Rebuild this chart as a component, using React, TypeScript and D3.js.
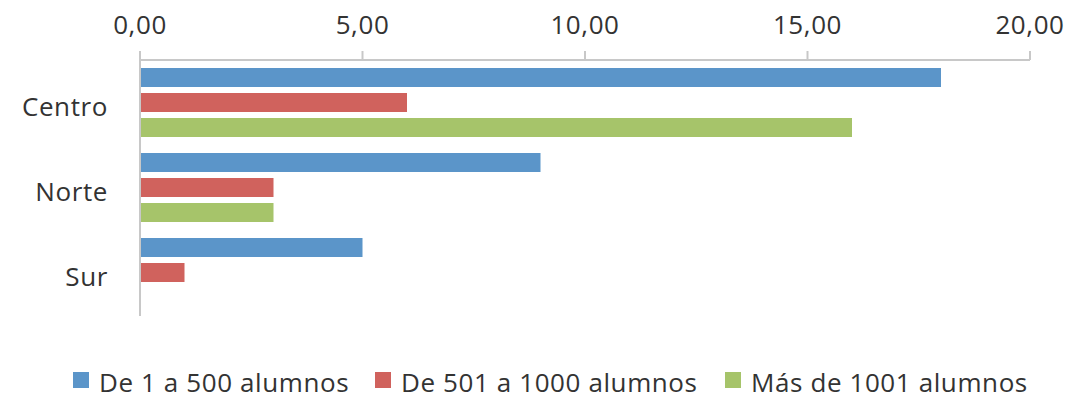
import * as d3 from "d3";

const categories = ["Centro", "Norte", "Sur"];
const seriesNames = ["De 1 a 500 alumnos", "De 501 a 1000 alumnos", "Más de 1001 alumnos"];
const de1a500 = [18, 9, 5];
const de501a1000 = [6, 3, 1];
const mas1001 = [16, 3, 0];
const xTicks = [0, 5, 10, 15, 20];
const colors = ["#5B95C9", "#D0625D", "#A6C46A"];

const W = 1073;
const H = 404;
const FONT = "'Open Sans', Lato, sans-serif";
const FS = 26;
const LS = 0.6;

export default function App() {
  const series = [de1a500, de501a1000, mas1001];
  const x = d3.scaleLinear().domain([0, 20]).range([140, 1030]);
  const y = d3.scaleBand().domain(categories).range([60, 315]);
  const inner = d3.scaleBand().domain(seriesNames).range([8, 77]).paddingInner(0.24);
  const fmt = (v: number) => v.toFixed(2).replace(".", ",");

  const legendX = [73, 375, 725];

  return (
    <svg width={W} height={H} style={{ position: "absolute", left: 0, top: 0, background: "#fff" }}>
      {/* top axis */}
      <line x1={x(0)} x2={x(20)} y1={60} y2={60} stroke="#c8c8c8" strokeWidth={2} />
      {xTicks.map((t) => (
        <g key={t}>
          <line x1={x(t)} x2={x(t)} y1={51} y2={60} stroke="#c8c8c8" strokeWidth={2} />
          <text x={x(t)} y={34} textAnchor="middle" fontFamily={FONT} fontSize={FS} letterSpacing={LS} fill="#333">
            {fmt(t)}
          </text>
        </g>
      ))}
      {/* vertical axis */}
      <line x1={x(0)} x2={x(0)} y1={51} y2={316} stroke="#c8c8c8" strokeWidth={2} />
      {categories.map((c, ci) => (
        <g key={c}>
          <text x={108} y={(y(c) ?? 0) + y.bandwidth() / 2 + 13} textAnchor="end" fontFamily={FONT} fontSize={FS} letterSpacing={LS} fill="#333">
            {c}
          </text>
          {series.map((s, si) =>
            s[ci] > 0 ? (
              <rect
                key={si}
                x={x(0) + 1}
                y={(y(c) ?? 0) + (inner(seriesNames[si]) ?? 0)}
                width={x(s[ci]) - x(0) - 1}
                height={inner.bandwidth()}
                fill={colors[si]}
              />
            ) : null
          )}
        </g>
      ))}
      {/* legend */}
      {seriesNames.map((n, i) => (
        <g key={n} transform={`translate(${legendX[i]},0)`}>
          <rect x={0} y={372} width={16} height={16} fill={colors[i]} />
          <text x={26} y={392} fontFamily={FONT} fontSize={FS} letterSpacing={LS} fill="#333">
            {n}
          </text>
        </g>
      ))}
    </svg>
  );
}
